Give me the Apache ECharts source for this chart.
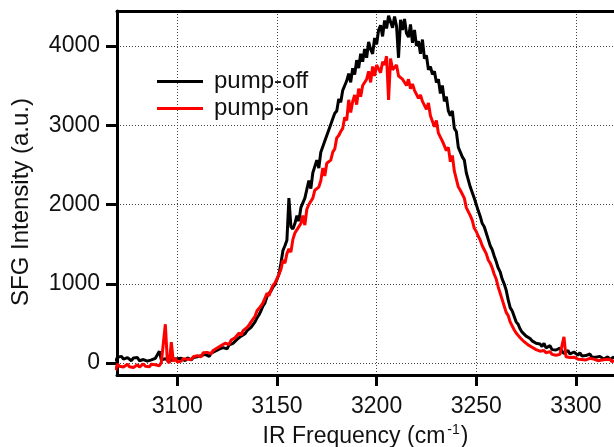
<!DOCTYPE html>
<html>
<head>
<meta charset="utf-8">
<script src="https://cdn.jsdelivr.net/npm/echarts@6/dist/echarts.min.js"></script>
<style>
  html, body { margin: 0; padding: 0; background: #fff; }
  #chart { width: 614px; height: 447px; }
</style>
</head>
<body>
<div id="chart"></div>
<script>
// IR frequency grid (cm^-1): evenly sampled, one point per wavenumber
const freqStart = 3069;
const freqStep = 1;

// SFG intensity without the pump pulse
const pumpOff = [
  20, 75, 60, 85, 50, 40, 70, 55, 30, 65,
  45, 70, 30, 20, 45, 35, 25, 50, 40, 30,
  60, 75, 150, 40, 30, 55, 45, 25, 40, 50,
  35, 55, 40, 60, 45, 30, 65, 50, 40, 70,
  55, 80, 60, 95, 75, 110, 90, 85, 125, 110,
  150, 135, 175, 160, 195, 210, 180, 230, 215, 250,
  265, 300, 285, 340, 320, 370, 410, 390, 450, 470,
  520, 570, 610, 660, 720, 760, 840, 880, 910, 960,
  990, 1010, 1120, 1260, 1420, 1480, 1550, 2080, 1720, 1690,
  1760, 1860, 1790, 1960, 1940, 2080, 2100, 2300, 2200, 2400,
  2380, 2560, 2460, 2660, 2650, 2800, 2780, 2940, 2950, 3080,
  3150, 3180, 3330, 3290, 3440, 3420, 3560, 3650, 3540, 3720,
  3640, 3820, 3720, 3900, 3800, 3960, 3850, 4050, 3960, 3900,
  4100, 4020, 4200, 4260, 4120, 4320, 4220, 4380, 4400, 4230,
  4370, 4250, 3850, 4330, 4200, 4340, 4160, 4110, 4270, 4040,
  4200, 4000, 4060, 3900, 4080, 3840, 3880, 3700, 3740, 3640,
  3680, 3540, 3580, 3400, 3500, 3300, 3360, 3180, 3120, 3180,
  2960, 2920, 2720, 2660, 2600, 2560, 2400, 2400, 2220, 2200,
  2080, 2000, 1920, 1850, 1760, 1720, 1640, 1560, 1480, 1430,
  1350, 1280, 1200, 1150, 1060, 1000, 920, 800, 700, 660,
  590, 520, 490, 430, 390, 410, 340, 330, 310, 280,
  300, 250, 270, 240, 210, 250, 190, 200, 220, 170,
  180, 165, 140, 190, 150, 120, 140, 160, 115, 130,
  140, 120, 100, 130, 90, 110, 95, 80, 115, 75,
  90, 75, 60, 85, 70, 50, 65, 80, 45, 60,
  75, 55
];

// SFG intensity with the pump pulse
const pumpOn = [
  -90, -10, -40, -20, -50, -30, -15, -45, -25, -55,
  -30, -20, -50, -35, -10, -40, -25, -45, -15, -30,
  -20, 0, -35, 10, -10, 490, 30, 0, 265, 20,
  60, 15, 40, 25, 55, 30, 50, 70, 45, 80,
  60, 95, 110, 80, 130, 105, 135, 150, 120, 160,
  175, 190, 170, 220, 205, 250, 265, 235, 290, 270,
  320, 345, 380, 350, 410, 390, 450, 480, 520, 500,
  590, 660, 640, 720, 760, 740, 880, 850, 920, 980,
  1010, 1060, 1120, 1180, 1300, 1260, 1380, 1440, 1400, 1560,
  1640, 1680, 1700, 1760, 1860, 1740, 1940, 2000, 1980, 2080,
  2180, 2200, 2220, 2300, 2460, 2360, 2520, 2540, 2560, 2660,
  2700, 2840, 2870, 2920, 2960, 3100, 3060, 3320, 3160, 3300,
  3380, 3260, 3460, 3360, 3500, 3520, 3580, 3680, 3540, 3740,
  3620, 3760, 3740, 3660, 3800, 3760, 3870, 3320, 3840, 3700,
  3720, 3760, 3620, 3640, 3580, 3600, 3500, 3580, 3460, 3520,
  3440, 3460, 3340, 3380, 3300, 3300, 3200, 3280, 3120, 3100,
  2980, 3060, 2900, 2920, 2800, 2820, 2680, 2720, 2540, 2620,
  2420, 2400, 2220, 2180, 2160, 2080, 1960, 1980, 1860, 1800,
  1700, 1660, 1600, 1550, 1480, 1430, 1380, 1300, 1260, 1200,
  1120, 1060, 960, 880, 800, 720, 640, 600, 520, 470,
  420, 380, 350, 320, 300, 270, 250, 230, 210, 200,
  180, 170, 190, 150, 140, 160, 130, 120, 145, 110,
  120, 100, 85, 110, 90, 330, 80, 95, 70, 60,
  75, 60, 50, 70, 45, 65, 40, 55, 60, 35,
  50, 45, 30, 55, 40, 25, 45, 35, 50, 20,
  40, 30
];

const xTicks = [3100, 3150, 3200, 3250, 3300];
const yTicks = [0, 1000, 2000, 3000, 4000];
const seriesNames = ['pump-off', 'pump-on'];

const toPairs = vals => vals.map((v, i) => [freqStart + i * freqStep, v]);
const plain = v => String(v);

const FONT = '"Liberation Sans", Arial, Helvetica, sans-serif';
const gridDots = { type: [1, 2], color: '#444', width: 1 };

const chart = echarts.init(document.getElementById('chart'), null, { renderer: 'canvas' });

chart.setOption({
  animation: false,
  backgroundColor: '#ffffff',
  textStyle: { fontFamily: FONT },
  grid: { left: 117, right: 0, top: 11, bottom: 72, containLabel: false, outerBoundsMode: 'none' },
  legend: {
    orient: 'vertical',
    left: 157,
    top: 68,
    padding: 0,
    itemWidth: 46,
    itemHeight: 3,
    itemGap: 0,
    icon: 'rect',
    data: seriesNames,
    textStyle: { fontSize: 24, color: '#111', lineHeight: 27, padding: [0, 0, 0, 6], fontFamily: FONT }
  },
  xAxis: [
    {
      type: 'value',
      min: 3069.75,
      max: 3319.1,
      axisLine: { show: true, onZero: false, lineStyle: { color: '#000', width: 3 } },
      axisTick: { show: true, length: 11, customValues: xTicks, lineStyle: { color: '#000', width: 3 } },
      axisLabel: { customValues: xTicks, formatter: plain, margin: 20, fontSize: 23, color: '#111', fontFamily: FONT },
      splitLine: { show: true, lineStyle: gridDots },
      name: '{a|IR Frequency (cm}{s|-1}{a|)}',
      nameLocation: 'middle',
      nameGap: 48,
      nameTextStyle: {
        rich: {
          a: { fontSize: 23, color: '#111', fontFamily: FONT, lineHeight: 26 },
          s: { fontSize: 14, color: '#111', fontFamily: FONT, padding: [0, 1, 14, 2] }
        }
      }
    },
    {
      type: 'value',
      position: 'top',
      min: 3069.75,
      max: 3319.1,
      axisLine: { show: true, onZero: false, lineStyle: { color: '#000', width: 3 } },
      axisTick: { show: false },
      axisLabel: { show: false },
      splitLine: { show: false }
    }
  ],
  yAxis: {
    type: 'value',
    min: -150,
    max: 4440,
    axisLine: { show: true, onZero: false, lineStyle: { color: '#000', width: 3 } },
    axisTick: { show: true, length: 11, customValues: yTicks, lineStyle: { color: '#000', width: 3 } },
    axisLabel: { customValues: yTicks, formatter: plain, margin: 17, fontSize: 23, color: '#111', fontFamily: FONT },
    splitLine: { show: true, lineStyle: gridDots },
    name: 'SFG Intensity (a.u.)',
    nameLocation: 'middle',
    nameGap: 84,
    nameTextStyle: { fontSize: 24, color: '#111', fontFamily: FONT, padding: [0, 18, 0, 0] }
  },
  series: [
    {
      name: seriesNames[0],
      type: 'line',
      data: toPairs(pumpOff),
      symbol: 'none',
      clip: true,
      lineStyle: { color: '#000000', width: 3 },
      itemStyle: { color: '#000000' }
    },
    {
      name: seriesNames[1],
      type: 'line',
      data: toPairs(pumpOn),
      symbol: 'none',
      clip: true,
      lineStyle: { color: '#ff0000', width: 3 },
      itemStyle: { color: '#ff0000' }
    }
  ]
});
</script>
</body>
</html>
